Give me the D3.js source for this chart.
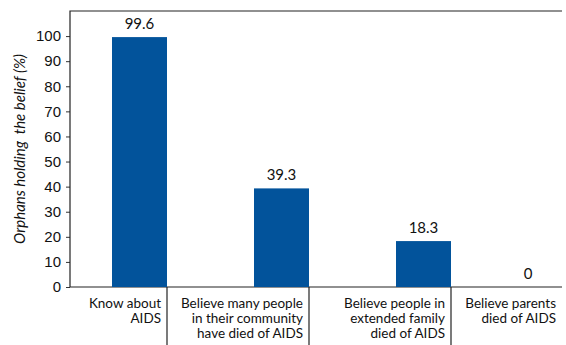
<!DOCTYPE html>
<html>
<head>
<meta charset="utf-8">
<script src="https://cdn.jsdelivr.net/npm/d3@7"></script>
<style>
  body { margin: 0; background: #fff; }
  svg { display: block; font-family: "Lato", "Open Sans", sans-serif; }
</style>
</head>
<body>
<svg id="chart"></svg>
<script>
const categories = [
  ["Know about", "AIDS"],
  ["Believe many people", "in their community", "have died of AIDS"],
  ["Believe people in", "extended family", "died of AIDS"],
  ["Believe parents", "died of AIDS"]
];
const values = [99.6, 39.3, 18.3, 0];
const yTicks = [0, 10, 20, 30, 40, 50, 60, 70, 80, 90, 100];
const yTitle = "Orphans holding  the belief (%)";

const W = 566, H = 345;
const svg = d3.select("#chart").attr("width", W).attr("height", H);

const plotL = 70, plotR = 562, plotT = 11, plotB = 287;
const barW = 55;
const ids = categories.map((d, i) => i);

const x = d3.scaleBand()
  .domain(ids)
  .range([25, 593])
  .padding(0);

const y = d3.scaleLinear()
  .domain([0, 110])
  .range([plotB, plotT]);

// y axis
const yAxis = svg.append("g")
  .attr("transform", `translate(${plotL},0)`)
  .call(d3.axisLeft(y).tickValues(yTicks).tickSize(4).tickPadding(5).tickFormat(d3.format("d")));
yAxis.select(".domain").remove();
yAxis.selectAll("text")
  .style("font-size", "15px")
  .attr("fill", "#111");
yAxis.selectAll("line").attr("stroke", "#333");

// frame: left, top, bottom
svg.append("path")
  .attr("d", `M${plotR},${plotT}H${plotL}V${plotB}H${plotR}`)
  .attr("fill", "none")
  .attr("stroke", "#222")
  .attr("stroke-width", 1.2);

// bars
svg.selectAll("rect.bar")
  .data(values)
  .join("rect")
  .attr("class", "bar")
  .attr("x", (d, i) => x(i) + x.bandwidth() - barW)
  .attr("y", d => y(d))
  .attr("width", barW)
  .attr("height", d => plotB - y(d))
  .attr("fill", "#02539b");

// value labels
svg.selectAll("text.val")
  .data(values)
  .join("text")
  .attr("class", "val")
  .attr("x", (d, i) => Math.min(x(i) + x.bandwidth() - barW / 2, plotR - 34))
  .attr("y", d => y(d) - 8)
  .attr("text-anchor", "middle")
  .style("font-size", "15px")
  .attr("fill", "#111")
  .text(d => d);

// category separators
ids.slice(1).forEach(i => {
  svg.append("line")
    .attr("x1", x(i)).attr("x2", x(i))
    .attr("y1", plotB).attr("y2", H)
    .attr("stroke", "#222")
    .attr("stroke-width", 1.2);
});

// category labels, right aligned within each cell
categories.forEach((lines, i) => {
  const cellEnd = Math.min(x(i) + x.bandwidth(), plotR);
  const t = svg.append("text")
    .attr("text-anchor", "end")
    .style("font-size", "13.5px")
    .attr("fill", "#111");
  lines.forEach((ln, j) => {
    t.append("tspan")
      .attr("x", cellEnd - 6)
      .attr("y", plotB + 21 + j * 15)
      .text(ln);
  });
});

// y title
svg.append("text")
  .attr("transform", `translate(25,149) rotate(-90)`)
  .attr("text-anchor", "middle")
  .style("font-size", "15px")
  .style("font-style", "italic")
  .style("white-space", "pre")
  .attr("fill", "#111")
  .text(yTitle);
</script>
</body>
</html>
